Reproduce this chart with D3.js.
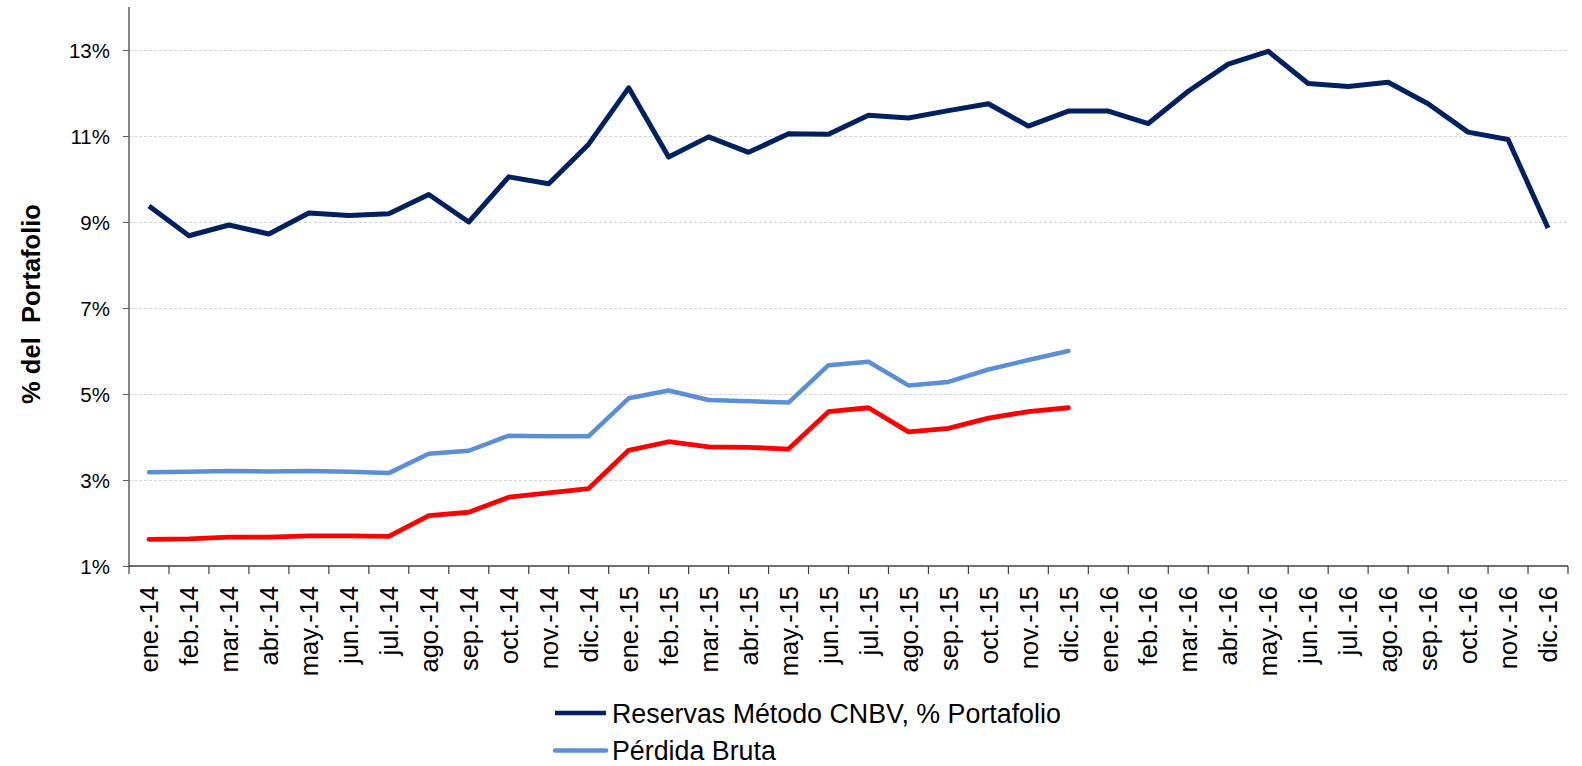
<!DOCTYPE html>
<html>
<head>
<meta charset="utf-8">
<script src="https://d3js.org/d3.v7.min.js"></script>
<style>
    body { margin: 0; background: #fff; }
    text { font-family: "Liberation Sans", Arial, sans-serif; fill: #000; }
    .grid line { stroke: #d4d4d4; stroke-width: 1; stroke-dasharray: 3,2; }
    .grid path { stroke: none; }
</style>
</head>
<body>
<div id="chart"></div>
<script>
var meses = ["ene.-14", "feb.-14", "mar.-14", "abr.-14", "may.-14", "jun.-14", "jul.-14", "ago.-14", "sep.-14", "oct.-14", "nov.-14", "dic.-14",
    "ene.-15", "feb.-15", "mar.-15", "abr.-15", "may.-15", "jun.-15", "jul.-15", "ago.-15", "sep.-15", "oct.-15", "nov.-15", "dic.-15",
    "ene.-16", "feb.-16", "mar.-16", "abr.-16", "may.-16", "jun.-16", "jul.-16", "ago.-16", "sep.-16", "oct.-16", "nov.-16", "dic.-16"];

// Reservas Método CNBV, % Portafolio
var reservas = [9.37, 8.68, 8.93, 8.72, 9.21, 9.15, 9.19, 9.64, 9.00, 10.05, 9.89, 10.81,
    12.12, 10.51, 10.98, 10.62, 11.05, 11.04, 11.48, 11.42, 11.59, 11.75, 11.23, 11.58,
    11.58, 11.29, 12.04, 12.67, 12.97, 12.22, 12.15, 12.25, 11.75, 11.09, 10.92, 8.86];

// Pérdida Bruta
var perdidaBruta = [3.18, 3.19, 3.21, 3.20, 3.21, 3.19, 3.16, 3.61, 3.68, 4.03, 4.02, 4.02,
    4.90, 5.08, 4.86, 4.83, 4.80, 5.67, 5.75, 5.20, 5.28, 5.57, 5.79, 6.00,
    null, null, null, null, null, null, null, null, null, null, null, null];

// tercera serie (sin entrada en la leyenda)
var serieRoja = [1.62, 1.63, 1.67, 1.67, 1.70, 1.70, 1.69, 2.17, 2.25, 2.60, 2.70, 2.80,
    3.69, 3.89, 3.77, 3.76, 3.72, 4.59, 4.68, 4.12, 4.20, 4.44, 4.59, 4.68,
    null, null, null, null, null, null, null, null, null, null, null, null];

var yTicks = [1, 3, 5, 7, 9, 11, 13];

var series = [
    { name: "Pérdida Bruta", values: perdidaBruta, color: "#5A8FD6", cap: "round", width: 4.5, legend: true },
    { name: "", values: serieRoja, color: "#FF0000", cap: "round", width: 4.8, legend: false },
    { name: "Reservas Método CNBV, % Portafolio", values: reservas, color: "#002060", cap: "butt", width: 5, legend: true }
];

function drawChart() {
    var margin = { top: 7, right: 14, bottom: 200, left: 129 },
        width = 1582 - margin.left - margin.right,
        height = 766 - margin.top - margin.bottom;

    var svg = d3.select("#chart")
        .append("svg")
        .attr("width", 1582)
        .attr("height", 766);

    var g = svg.append("g")
        .attr("transform", "translate(" + margin.left + "," + margin.top + ")");

    var x = d3.scaleBand()
        .domain(meses)
        .range([0, width]);

    var y = d3.scaleLinear()
        .domain([1, 14])
        .range([height, 0]);

    // horizontal gridlines
    g.append("g")
        .attr("class", "grid")
        .call(d3.axisLeft(y)
            .tickValues(yTicks.slice(1))
            .tickSize(-width)
            .tickFormat(""));

    // Y axis
    var yAxis = g.append("g")
        .call(d3.axisLeft(y)
            .tickValues(yTicks)
            .tickSize(6)
            .tickPadding(13)
            .tickFormat(function (d) { return d + "%"; }));
    yAxis.select(".domain")
        .attr("stroke", "#868686")
        .attr("stroke-width", 2)
        .attr("d", "M0," + height + "V0");
    yAxis.selectAll(".tick line").attr("stroke", "#595959");
    yAxis.selectAll("text")
        .style("font-size", "20.5px")
        .attr("dy", "0.36em");

    // X axis, ticks on the band edges
    var xAxis = g.append("g")
        .attr("transform", "translate(0," + height + ")");
    xAxis.append("line")
        .attr("x1", 0)
        .attr("x2", width)
        .attr("stroke", "#404040")
        .attr("stroke-width", 1.5);
    xAxis.selectAll(".edge")
        .data(meses.concat(["fin"]))
        .enter()
        .append("line")
        .attr("class", "edge")
        .attr("x1", function (d, i) { return i * x.bandwidth(); })
        .attr("x2", function (d, i) { return i * x.bandwidth(); })
        .attr("y1", 0)
        .attr("y2", 8)
        .attr("stroke", "#404040")
        .attr("stroke-width", 1.2);
    xAxis.selectAll(".mes")
        .data(meses)
        .enter()
        .append("text")
        .attr("class", "mes")
        .attr("transform", function (d) {
            return "translate(" + (x(d) + x.bandwidth() / 2) + ",20) rotate(-90)";
        })
        .attr("text-anchor", "end")
        .attr("dy", "0.36em")
        .style("font-size", "25.5px")
        .text(function (d) { return d; });

    // Y axis title
    svg.append("text")
        .attr("transform", "translate(40,304) rotate(-90)")
        .attr("text-anchor", "middle")
        .style("font-size", "25.5px")
        .style("font-weight", "bold")
        .style("white-space", "pre")
        .text("% del  Portafolio");

    // the lines
    var line = d3.line()
        .defined(function (d) { return d != null; })
        .x(function (d, i) { return x(meses[i]) + x.bandwidth() / 2; })
        .y(function (d) { return y(d); });

    g.selectAll(".serie")
        .data(series)
        .enter()
        .append("path")
        .attr("class", "serie")
        .attr("fill", "none")
        .attr("stroke", function (d) { return d.color; })
        .attr("stroke-width", function (d) { return d.width; })
        .attr("stroke-linejoin", "round")
        .attr("stroke-linecap", function (d) { return d.cap; })
        .attr("d", function (d) { return line(d.values); });

    // legend
    var legendItems = series.filter(function (d) { return d.legend; }).reverse();
    var legend = svg.append("g")
        .attr("transform", "translate(555,713)");
    var item = legend.selectAll(".item")
        .data(legendItems)
        .enter()
        .append("g")
        .attr("transform", function (d, i) { return "translate(0," + (i * 37.5) + ")"; });
    item.append("line")
        .attr("x1", 0)
        .attr("x2", 51)
        .attr("stroke", function (d) { return d.color; })
        .attr("stroke-width", 4.5)
        .attr("stroke-linecap", function (d) { return d.cap; });
    item.append("text")
        .attr("x", 57)
        .attr("y", 9.5)
        .style("font-size", "26.8px")
        .text(function (d) { return d.name; });
}

drawChart();
</script>
</body>
</html>
